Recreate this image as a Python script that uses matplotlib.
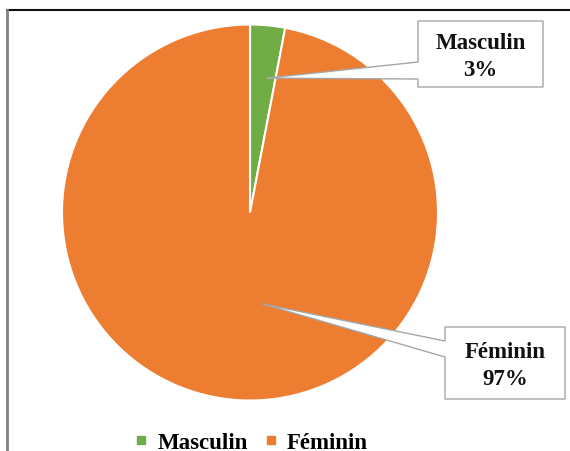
import numpy as np
import matplotlib
matplotlib.use('Agg')
import matplotlib.pyplot as plt
from matplotlib.patches import Polygon
from matplotlib.lines import Line2D

# Répartition par sexe
labels = ['Masculin', 'Féminin']
values = [3, 97]
colors = ['#70AD47', '#ED7D31']

W, H = 570, 452
DPI = 100
FONT = 'Liberation Serif'

# pie geometry in pixels (top-down)
cx, cy, R = 250, 213.5, 188

# callout layout: box (x0, y0, x1, y1), wedge base on left edge (ya, yb),
# anchor inside the slice as (angle deg, radius fraction)
callouts = [
    dict(box=(418, 22, 543, 88), base=(63, 80), anchor=(83.0, 0.72)),
    dict(box=(445, 328, 565, 400), base=(342, 358), anchor=(-82.5, 0.49)),
]


def px(x, y):
    """pixel coords (origin top-left) -> figure fraction"""
    return x / W, 1 - y / H


fig = plt.figure(figsize=(W / DPI, H / DPI), dpi=DPI)
fig.patch.set_facecolor('white')

ax = fig.add_axes([(cx - R) / W, (H - cy - R) / H, 2 * R / W, 2 * R / H])
ax.pie(values, colors=colors, startangle=90, counterclock=False,
       radius=1, wedgeprops=dict(edgecolor='white', linewidth=1.5))
ax.set_xlim(-1, 1)
ax.set_ylim(-1, 1)
ax.set_aspect('equal')
ax.axis('off')

# callout boxes with pointer
for lab, val, c in zip(labels, values, callouts):
    x0, y0, x1, y1 = c['box']
    ya, yb = c['base']
    ang, rf = c['anchor']
    tx = cx + R * rf * np.cos(np.radians(ang))
    ty = cy - R * rf * np.sin(np.radians(ang))
    pts = [(x0, y0), (x1, y0), (x1, y1), (x0, y1), (x0, yb), (tx, ty), (x0, ya)]
    poly = Polygon([px(*p) for p in pts], closed=True, transform=fig.transFigure,
                   facecolor='white', edgecolor='#A6A6A6', linewidth=1.0)
    fig.add_artist(poly)
    fig.text(*px((x0 + x1) / 2, (y0 + y1) / 2 + 2), f'{lab}\n{val}%',
             ha='center', va='center', fontsize=16.5, fontweight='bold',
             family=FONT, color='#111111', linespacing=1.35)

# legend at the bottom
handles = [Line2D([], [], marker='s', linestyle='none', markersize=6,
                  markerfacecolor=col, markeredgecolor=col) for col in colors]
fig.legend(handles, labels, loc='center', bbox_to_anchor=px(251, 443),
           ncol=2, frameon=False, handlelength=0.6, handletextpad=0.4,
           columnspacing=0.7, prop=dict(family=FONT, weight='bold', size=16.5))

# chart frame: dark top rule, gray left rule
fig.add_artist(Line2D([px(7, 0)[0], 1], [px(0, 11)[1]] * 2,
                      transform=fig.transFigure, color='#111111', linewidth=1.5))
fig.add_artist(Line2D([px(7, 0)[0]] * 2, [px(0, 11)[1], 0],
                      transform=fig.transFigure, color='#808080', linewidth=2))

fig.savefig('out.png', dpi=DPI)
